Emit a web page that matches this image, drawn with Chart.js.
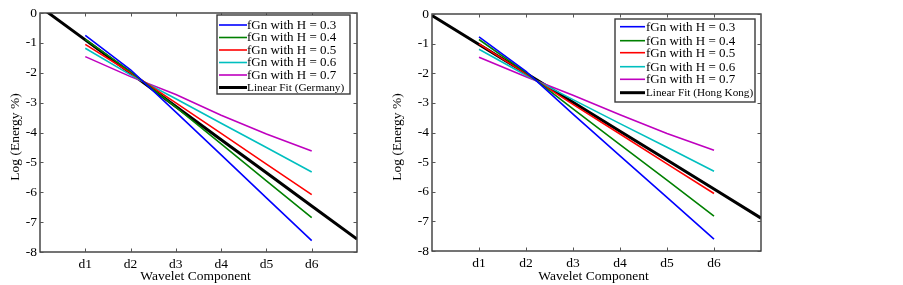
<!DOCTYPE html>
<html>
<head>
<meta charset="utf-8">
<script src="https://cdn.jsdelivr.net/npm/chart.js@4.4.1/dist/chart.umd.min.js"></script>
<style>
  html, body { margin: 0; padding: 0; background: #fff; }
  body { width: 903px; height: 285px; position: relative; overflow: hidden; }
  canvas { position: absolute; top: 0; }
  #c1 { left: 0px; }
  #c2 { left: 380px; }
</style>
</head>
<body>
<canvas id="c1" width="390" height="285"></canvas>
<canvas id="c2" width="410" height="285"></canvas>
<script>
// ---- data ----
const categories = [1, 2, 3, 4, 5, 6];           // d1..d6 positions
const xTickLabels = ['d1', 'd2', 'd3', 'd4', 'd5', 'd6'];
const fitX = [0, 1, 2, 3, 4, 5, 6, 7];
const yTicks = [-8, -7, -6, -5, -4, -3, -2, -1, 0];

const seriesLabels = ['fGn with H = 0.3', 'fGn with H = 0.4', 'fGn with H = 0.5', 'fGn with H = 0.6', 'fGn with H = 0.7'];

// left chart (Germany)
const germanyH03 = [-0.75, -1.90, -3.32, -4.75, -6.19, -7.62];
const germanyH04 = [-0.88, -1.96, -3.15, -4.38, -5.62, -6.85];
const germanyH05 = [-1.05, -2.00, -3.01, -4.03, -5.06, -6.08];
const germanyH06 = [-1.18, -2.07, -2.87, -3.69, -4.50, -5.32];
const germanyH07 = [-1.46, -2.13, -2.73, -3.42, -4.05, -4.62];
const germanyFit = [0.21, -0.90, -2.01, -3.13, -4.24, -5.35, -6.46, -7.57];

// right chart (Hong Kong)
const hongkongH03 = [-0.77, -1.94, -3.38, -4.79, -6.19, -7.60];
const hongkongH04 = [-0.86, -1.98, -3.20, -4.41, -5.61, -6.82];
const hongkongH05 = [-1.01, -2.02, -3.05, -4.05, -5.06, -6.06];
const hongkongH06 = [-1.19, -2.07, -2.89, -3.70, -4.50, -5.31];
const hongkongH07 = [-1.46, -2.12, -2.74, -3.40, -4.03, -4.60];
const hongkongFit = [-0.05, -1.03, -2.00, -2.98, -3.96, -4.93, -5.91, -6.89];

const colors = ['#0000ff', '#008000', '#ff0000', '#00bfbf', '#bf00bf'];
const FONT = '"Liberation Serif", "Times New Roman", serif';

function pts(xs, ys) { return xs.map((x, i) => ({ x: x, y: ys[i] })); }

function makeDatasets(series, fit, fitLabel) {
  const ds = series.map((s, i) => ({
    label: seriesLabels[i],
    data: pts(categories, s),
    borderColor: colors[i],
    backgroundColor: colors[i],
    borderWidth: 1.6,
    pointRadius: 0,
    tension: 0,
    fill: false
  }));
  ds.push({
    label: fitLabel,
    data: pts(fitX, fit),
    borderColor: '#000000',
    backgroundColor: '#000000',
    borderWidth: 3,
    pointRadius: 0,
    tension: 0,
    fill: false
  });
  return ds;
}

// frame, inward ticks, axis titles, legend
const matlabPlugin = {
  id: 'matlab',
  afterDatasetsDraw(chart, args, opts) {
    const ctx = chart.ctx;
    const a = chart.chartArea;
    const xs = chart.scales.x, ys = chart.scales.y;
    ctx.save();
    // frame
    ctx.strokeStyle = '#3a3a3a';
    ctx.lineWidth = 1.4;
    ctx.strokeRect(a.left, a.top, a.right - a.left, a.bottom - a.top);
    // ticks
    ctx.lineWidth = 1;
    ctx.strokeStyle = '#555';
    const tl = 3.5;
    ctx.beginPath();
    categories.forEach(v => {
      const px = Math.round(xs.getPixelForValue(v)) + 0.5;
      ctx.moveTo(px, a.bottom); ctx.lineTo(px, a.bottom - tl);
      ctx.moveTo(px, a.top); ctx.lineTo(px, a.top + tl);
    });
    yTicks.forEach(v => {
      const py = Math.round(ys.getPixelForValue(v)) + 0.5;
      ctx.moveTo(a.left, py); ctx.lineTo(a.left + tl, py);
      ctx.moveTo(a.right, py); ctx.lineTo(a.right - tl, py);
    });
    ctx.stroke();
    // axis titles
    ctx.fillStyle = '#000';
    ctx.font = '13.5px ' + FONT;
    ctx.textAlign = 'center';
    ctx.textBaseline = 'middle';
    ctx.fillText(opts.xTitle, (a.left + a.right) / 2 - 3, 276);
    ctx.save();
    ctx.translate(opts.yTitleX, 137);
    ctx.rotate(-Math.PI / 2);
    ctx.fillText(opts.yTitle, 0, 0);
    ctx.restore();
    // legend
    const L = opts.legend;
    ctx.fillStyle = '#fff';
    ctx.fillRect(L.x, L.y, L.w, L.h);
    ctx.strokeStyle = '#3a3a3a';
    ctx.lineWidth = 1.4;
    ctx.strokeRect(L.x, L.y, L.w, L.h);
    chart.data.datasets.forEach((d, i) => {
      const cy = L.rows[i];
      ctx.strokeStyle = d.borderColor;
      ctx.lineWidth = d.borderWidth;
      ctx.beginPath();
      ctx.moveTo(L.lineX0, cy);
      ctx.lineTo(L.lineX1, cy);
      ctx.stroke();
      ctx.fillStyle = '#000';
      ctx.textAlign = 'left';
      ctx.textBaseline = 'middle';
      ctx.font = (i === chart.data.datasets.length - 1 ? L.lastSize : L.size) + 'px ' + FONT;
      ctx.fillText(d.label, L.textX, cy + 0.5);
    });
    ctx.restore();
  }
};

function makeChart(id, datasets, yWidth, padRight, top, xHeight, pluginOpts) {
  return new Chart(document.getElementById(id), {
    type: 'line',
    data: { datasets: datasets },
    options: {
      responsive: false,
      animation: false,
      devicePixelRatio: 1,
      layout: { padding: { left: 0, right: padRight, top: top, bottom: 0 } },
      plugins: {
        legend: { display: false },
        tooltip: { enabled: false },
        matlab: pluginOpts
      },
      scales: {
        x: {
          type: 'linear', min: 0, max: 7,
          grid: { display: false, drawTicks: false },
          border: { display: false },
          ticks: {
            stepSize: 1, autoSkip: false, maxRotation: 0, padding: 4,
            color: '#000', font: { family: FONT, size: 13.5 },
            callback: (v) => (v >= 1 && v <= 6) ? xTickLabels[v - 1] : ''
          },
          afterFit: (s) => { s.height = xHeight; }
        },
        y: {
          type: 'linear', min: -8, max: 0,
          grid: { display: false, drawTicks: false },
          border: { display: false },
          ticks: {
            stepSize: 1, autoSkip: false, padding: 3,
            color: '#000', font: { family: FONT, size: 13.5 }
          },
          afterFit: (s) => { s.width = yWidth; }
        }
      }
    },
    plugins: [matlabPlugin]
  });
}

makeChart('c1',
  makeDatasets([germanyH03, germanyH04, germanyH05, germanyH06, germanyH07], germanyFit, 'Linear Fit (Germany)'),
  40, 33, 13, 33,
  {
    xTitle: 'Wavelet Component', yTitle: 'Log (Energy %)', yTitleX: 15,
    legend: { x: 217, y: 15, w: 133, h: 79, lineX0: 219, lineX1: 247, textX: 247,
              rows: [25, 37.5, 50, 62.5, 75, 87.5], size: 13, lastSize: 11.3 }
  });

makeChart('c2',
  makeDatasets([hongkongH03, hongkongH04, hongkongH05, hongkongH06, hongkongH07], hongkongFit, 'Linear Fit (Hong Kong)'),
  52, 29, 14, 34,
  {
    xTitle: 'Wavelet Component', yTitle: 'Log (Energy %)', yTitleX: 17,
    legend: { x: 235, y: 19, w: 140, h: 83, lineX0: 240, lineX1: 265, textX: 266,
              rows: [26.7, 40.7, 52.7, 66.7, 79.3, 92.7], size: 13, lastSize: 11.2 }
  });
</script>
</body>
</html>
